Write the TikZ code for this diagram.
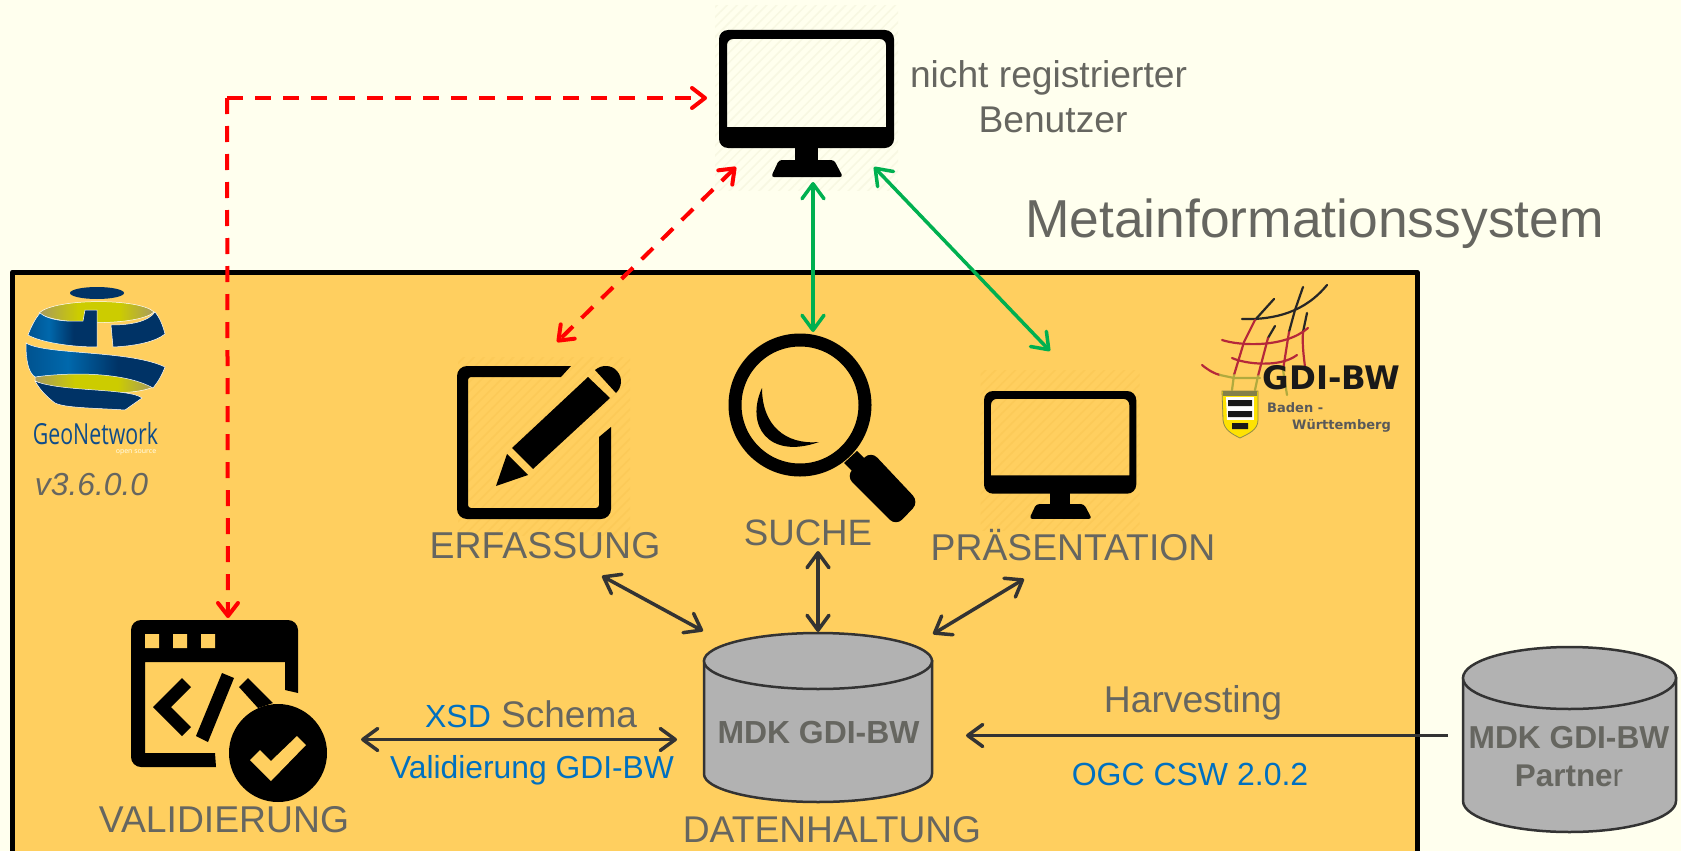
\documentclass[tikz,border=0pt]{standalone}
\usepackage{fontspec}
\setmainfont{Liberation Sans}
\newfontfamily\geofont{Open Sans}
\newfontfamily\gdisans{DejaVu Sans}
\usetikzlibrary{arrows.meta,patterns.meta,shadings}
\definecolor{bgcol}{HTML}{FFFFEE}
\definecolor{boxcol}{HTML}{FFCF5F}
\definecolor{txtcol}{HTML}{666660}
\definecolor{bluetxt}{HTML}{0070C0}
\definecolor{arrowcol}{HTML}{333333}
\definecolor{greenarrow}{HTML}{00B050}
\definecolor{cylcol}{HTML}{B2B2B2}
\definecolor{geoblue}{HTML}{003366}
\definecolor{geohi}{HTML}{0068AC}
\definecolor{geotext}{HTML}{0F4C8A}
\definecolor{geoyel}{HTML}{CCCC00}
\definecolor{geoyed}{HTML}{A89A5E}
\definecolor{hatchA}{HTML}{F8F8E2}
\definecolor{hatchB}{HTML}{FCCA58}
\definecolor{netredc}{HTML}{B5283A}
\pgfdeclarehorizontalshading{geoband}{100bp}{color(0bp)=(geoblue!40!geohi); color(25bp)=(geoblue!40!geohi); color(40bp)=(geohi); color(58bp)=(geoblue); color(100bp)=(geoblue)}
\pgfdeclarehorizontalshading{geoyband}{100bp}{color(0bp)=(geoyed); color(25bp)=(geoyed); color(42bp)=(geoyel); color(60bp)=(geoyel); color(75bp)=(geoyed); color(100bp)=(geoyed)}
\newcommand\fsz[1]{\fontsize{#1}{#1}\selectfont}
\newcommand\monitoricon[4]{%
  \begin{scope}[shift={(#1,#2)},scale=#3]
    \fill[pattern={Lines[angle=45,distance=7pt,line width=1.5pt]},pattern color=#4] (-4,-24) rectangle (179,160);
    \fill[black,rounded corners=9pt,even odd rule] (0,0) rectangle (175,118)
      [sharp corners] (8,97) [rounded corners=6pt] -- (8,9) -- (167,9) [sharp corners] -- (167,97) -- cycle;
    \fill[black] (76,116) rectangle (99,132);
    \fill[black,rounded corners=3pt] (60,130) -- (115,130) -- (124,147) -- (52,147) -- cycle;
  \end{scope}}
\tikzset{
  lbl/.style={anchor=base,inner sep=0pt,text=txtcol,align=center},
  bluelbl/.style={anchor=base,inner sep=0pt,text=bluetxt},
  cyl/.style={draw=arrowcol,line width=2.5pt,fill=cylcol},
  conn/.style={line width=3.5pt,arrowcol,{Straight Barb[length=15pt,width=22pt,round]}-{Straight Barb[length=15pt,width=22pt,round]}},
  connone/.style={line width=3.5pt,arrowcol,-{Straight Barb[length=15pt,width=22pt,round]}},
  redbase/.style={line width=4pt,red,dash pattern=on 16pt off 12pt},
  redconn/.style={redbase,{Straight Barb[length=13pt,width=20pt,round]}-{Straight Barb[length=13pt,width=20pt,round]}},
  redone/.style={redbase,-{Straight Barb[length=13pt,width=20pt,round]}},
  greenconn/.style={line width=3.5pt,greenarrow,{Straight Barb[length=15pt,width=22pt,round]}-{Straight Barb[length=15pt,width=22pt,round]}},
  geoshade/.style={shade,shading=geoband,draw=white,line width=.5pt},
  yelshade/.style={shade,shading=geoyband,draw=white,line width=.5pt},
  netblack/.style={draw=black!85,line width=2.2pt,line cap=round},
  netred/.style={draw=netredc,line width=2.2pt,line cap=round},
  netyel/.style={draw=yellow!65!black,line width=2.2pt,line cap=round},
}
\begin{document}
\begin{tikzpicture}[x=1pt,y=-1pt]
\useasboundingbox (0,0) rectangle (1681,851);
\clip (0,0) rectangle (1681,851);
\fill[bgcol] (0,0) rectangle (1681,851);
% main box
\draw[line width=5pt,fill=boxcol,line join=round] (12.5,272) rectangle (1417,870);

% monitors
\monitoricon{719}{30}{1}{hatchA}
\monitoricon{984}{391}{.87}{hatchB}

% edit icon
\fill[pattern={Lines[angle=45,distance=7pt,line width=1.5pt]},pattern color=hatchB] (458,357) rectangle (630,535);
\fill[black,rounded corners=10pt] (571,366) -- (457,366) -- (457,519) -- (611,519) [sharp corners] -- (611,427) -- (599,437) [rounded corners=3pt] -- (599,508) -- (468,508) -- (468,377) [sharp corners] -- (561,377) -- cycle;
\fill[black] (588,377) -- (610,398) -- (533,469) -- (512,448) -- cycle;
\fill[black] (595,370) .. controls (602,364) and (612,365) .. (617,371) .. controls (623,378) and (622,387) .. (616,393) -- cycle;
\fill[black] (507,454) -- (528,475) -- (496,486) -- cycle;

% magnifier
\draw[black,line width=13pt] (800,405) circle[radius=65];
\fill[black] (762,388) .. controls (745,425) and (768,460) .. (819,442) .. controls (785,445) and (762,425) .. (762,388) -- cycle;
\fill[black] (857,451) -- (844,463) -- (855,474) -- (868,462) -- cycle;
\fill[black,rounded corners=9pt] (846,476) -- (871,451) -- (919,502) -- (896,526) -- cycle;

% validation icon
\fill[black,rounded corners=10pt] (298,693) -- (298,620) -- (131,620) -- (131,767) [sharp corners] -- (216,767) -- (215,753) -- (145,753) -- (145,662) -- (285,662) -- (285,690) -- cycle;
\fill[boxcol] (145,634) rectangle (159,648) (173,634) rectangle (187,648) (201,634) rectangle (215,648);
\fill[black] (191,687) -- (182,678) -- (153,707) -- (182,736) -- (191,727) -- (171,707) -- cycle;
\fill[black] (222,673) -- (234,678) -- (208,742) -- (196,736) -- cycle;
\fill[black] (248,678) -- (239,687) -- (258,708) -- (273,703) -- cycle;
\fill[black] (278,753) circle[radius=49];
\fill[boxcol] (250,760) -- (260,750) -- (271,761) -- (297,736) -- (306,745) -- (271,781) -- cycle;

% GeoNetwork logo
\fill[geoblue] (97,293) ellipse[x radius=27,y radius=6];
\path[yelshade] (39,313) .. controls (55,298) and (140,298) .. (154,312) .. controls (140,326) and (55,326) .. (39,313) -- cycle;
\path[geoshade] (40,313) .. controls (48,320) and (65,322) .. (83,321) -- (85,310) -- (97,310) -- (97,347) .. controls (70,347) and (40,342) .. (28,335) .. controls (31,327) and (35,319) .. (40,313) -- cycle;
\path[fill=geoblue,draw=white,line width=.5pt] (111,325) .. controls (130,325) and (148,322) .. (155,312) .. controls (160,318) and (163,326) .. (165,334) .. controls (155,342) and (135,346) .. (113,347) -- cycle;
\path[yelshade] (35,377) .. controls (70,370) and (130,372) .. (153,387) .. controls (130,398) and (55,392) .. (35,381) -- cycle;
\path[geoshade] (26,343) .. controls (45,355) and (130,350) .. (165,367) .. controls (162,375) and (158,382) .. (153,388) .. controls (125,372) and (70,372) .. (35,377) .. controls (28,372) and (26,360) .. (26,343) -- cycle;
\path[fill=geoblue,draw=white,line width=.5pt] (35,381) .. controls (60,392) and (130,388) .. (142,398) -- (125,410) .. controls (95,408) and (65,408) .. (55,403) .. controls (47,397) and (40,390) .. (35,381) -- cycle;
\node[anchor=base,inner sep=0pt,text=geotext,xscale=.735,transform shape,font=\geofont\fsz{29}] (geotxt) at (95.5,444) {GeoNetwork};
\node[anchor=base,inner sep=0pt,text=bgcol,font=\geofont\fsz{7}] (geosub) at (136,453) {open source};
\node[lbl,font=\itshape\fsz{31.8}] (version) at (91.5,495) {v3.6.0.0};

% GDI-BW logo
\draw[netblack] (1242,319) .. controls (1275,320) and (1305,312) .. (1327,285);
\draw[netblack] (1274,299) -- (1255,320);
\draw[netblack] (1303,287) -- (1295,310) -- (1289,332);
\draw[netblack] (1275,326) -- (1268,338);
\draw[netblack] (1307,313) -- (1303,332);
\draw[netred] (1255,320) -- (1244,342) -- (1234,375);
\draw[netred] (1289,332) -- (1283,370);
\draw[netred] (1268,338) -- (1258,376);
\draw[netred] (1303,332) .. controls (1302,345) and (1304,358) .. (1305,367);
\draw[netred] (1222,340) .. controls (1240,346) and (1285,348) .. (1308,328);
\draw[netred] (1232,358) .. controls (1245,364) and (1280,368) .. (1297,355);
\draw[netred] (1202,365) .. controls (1208,370) and (1215,374) .. (1220,375);
\draw[netyel] (1220,375) -- (1234,378) -- (1260,378);
\draw[netyel] (1234,375) -- (1232,390);
\draw[netyel] (1258,376) -- (1255,390);
\draw[netyel] (1283,370) -- (1287,395);
% shield
\fill[yellow!85!orange,draw=yellow!50!black,line width=.8pt] (1222,391) -- (1258,391) -- (1258,420) .. controls (1258,430) and (1248,434) .. (1240,438) .. controls (1232,434) and (1224,430) .. (1223,420) -- cycle;
\fill[yellow!45!black] (1223,391) rectangle (1257,396);
\begin{scope}
\clip (1226,397) -- (1254,397) -- (1254,420) .. controls (1254,427) and (1246,431) .. (1240,434) .. controls (1234,431) and (1227,427) .. (1227,420) -- cycle;
\fill[white] (1226,397) rectangle (1254,420);
\fill[black!90] (1228,400) rectangle (1252,406) (1228,411) rectangle (1252,417) (1232,423) rectangle (1248,429);
\end{scope}
\node[anchor=base,inner sep=0pt,text=black!90,font=\gdisans\bfseries\fsz{32.4}] (gdibw) at (1331.5,389.5) {GDI-BW};
\node[anchor=base west,inner sep=0pt,text=black!65,font=\gdisans\bfseries\fsz{13}] (baden) at (1267,412) {Baden -};
\node[anchor=base west,inner sep=0pt,text=black!65,font=\gdisans\bfseries\fsz{13}] (wuertt) at (1292,429) {Württemberg};

% cylinders
\path[cyl] (704,661) -- (704,774) arc[start angle=180,end angle=0,x radius=114,y radius=28] -- (932,661) -- cycle;
\path[cyl] (818,661) ellipse[x radius=114,y radius=28];
\path[cyl] (1463,678) -- (1463,801) arc[start angle=180,end angle=0,x radius=106.5,y radius=31] -- (1676,678) -- cycle;
\path[cyl] (1569.5,678) ellipse[x radius=106.5,y radius=31];

% texts
\node[lbl,font=\bfseries\fsz{31.9}] (mdk) at (818.5,743) {MDK GDI-BW};
\node[lbl,font=\bfseries\fsz{31.7}] (mdkp) at (1569,748) {MDK GDI-BW};
\node[lbl,font=\bfseries\fsz{31.4}] (partner) at (1569,786) {Partne{\mdseries r}};
\node[lbl,font=\fsz{37.2}] (nicht) at (1048.5,87) {nicht registrierter};
\node[lbl,font=\fsz{37.2}] (benutzer) at (1053,132) {Benutzer};
\node[lbl,font=\fsz{53.4}] (meta) at (1314.5,237) {Metainformationssystem};
\node[lbl,font=\fsz{37.4}] (erf) at (545,558) {ERFASSUNG};
\node[lbl,font=\fsz{36.7}] (suche) at (808,545) {SUCHE};
\node[lbl,font=\fsz{37.3}] (praes) at (1073,560) {PRÄSENTATION};
\node[lbl,font=\fsz{37.3}] (valid) at (224,832) {VALIDIERUNG};
\node[lbl,font=\fsz{37.2}] (daten) at (832,842) {DATENHALTUNG};
\node[lbl,font=\fsz{37}] (xsd) at (531,727) {\textcolor{bluetxt}{\fsz{32}XSD} Schema};
\node[bluelbl,font=\fsz{31.8}] (valgdi) at (532,778) {Validierung GDI-BW};
\node[lbl,font=\fsz{37.3}] (harv) at (1193,712) {Harvesting};
\node[bluelbl,font=\fsz{32}] (ogc) at (1190,785) {OGC CSW 2.0.2};

% connector end points
\coordinate (monL) at (707,98);
\coordinate (corner) at (227,98);
\coordinate (valT) at (228,618);
\coordinate (monBL) at (736,167);
\coordinate (erfT) at (557,342);
\coordinate (monB) at (813,182);
\coordinate (sucT) at (813,332);
\coordinate (monBR) at (874,167);
\coordinate (praesT) at (1050,351);
\coordinate (erfB) at (602,576);
\coordinate (dbE) at (703,631);
\coordinate (sucB) at (818,551);
\coordinate (dbT) at (818,632);
\coordinate (praesB) at (1024,579);
\coordinate (dbP) at (933,634);
\coordinate (valR) at (361,739.5);
\coordinate (dbL) at (677,739.5);
\coordinate (dbR) at (966,735.5);
\coordinate (partL) at (1448,735.5);

% connectors
\draw[redone] (corner) -- (monL);
\draw[redone] (corner) -- (valT);
\draw[redconn] (monBL) -- (erfT);
\draw[greenconn] (monB) -- (sucT);
\draw[greenconn] (monBR) -- (praesT);
\draw[conn] (erfB) -- (dbE);
\draw[conn] (sucB) -- (dbT);
\draw[conn] (praesB) -- (dbP);
\draw[conn] (valR) -- (dbL);
\draw[connone] (partL) -- (dbR);
\end{tikzpicture}
\end{document}
